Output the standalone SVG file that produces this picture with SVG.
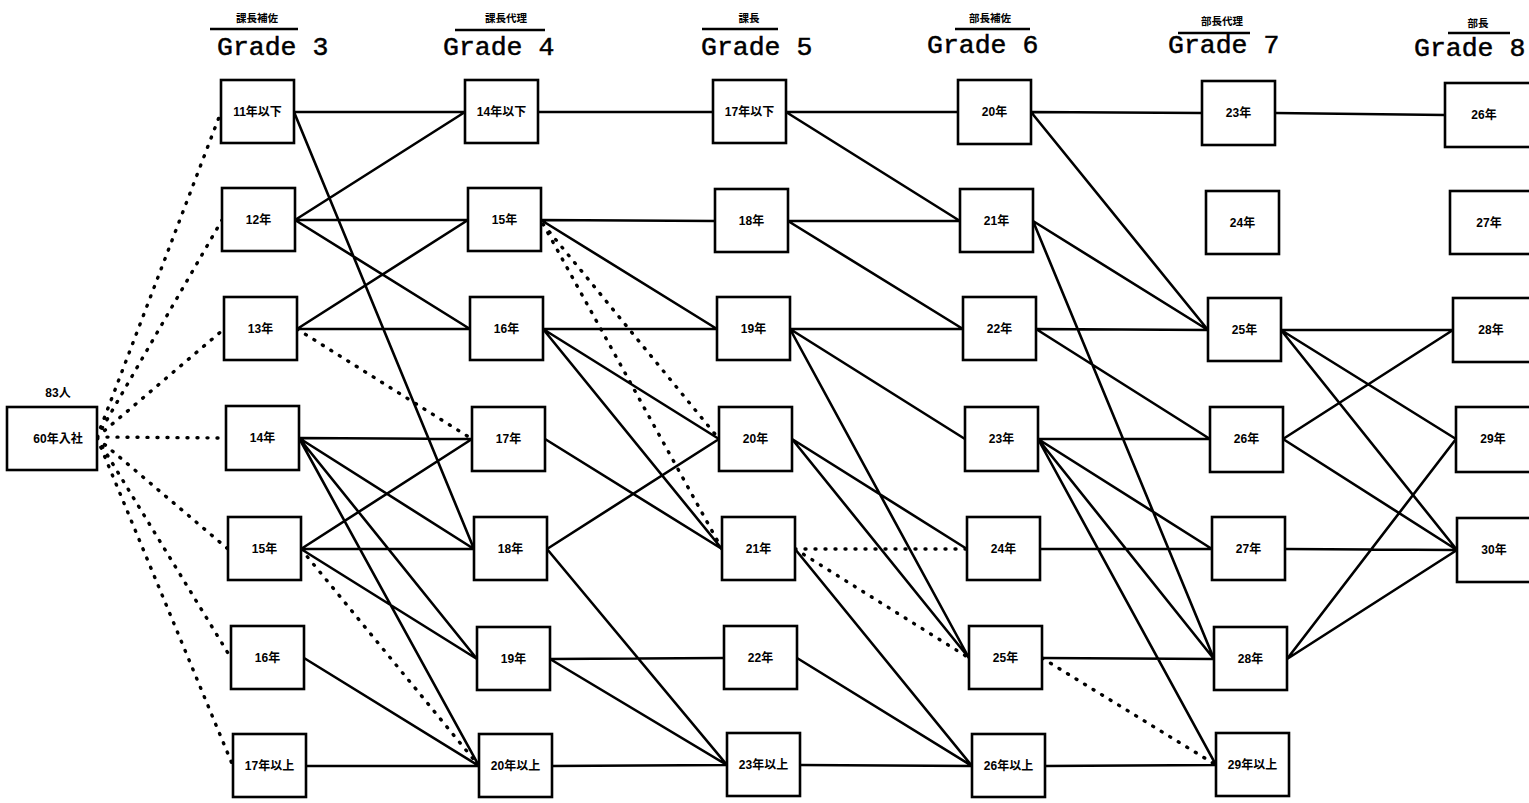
<svg xmlns="http://www.w3.org/2000/svg" width="1529" height="803" viewBox="0 0 1529 803">
<style>
.bx{fill:#fff;stroke:#000;stroke-width:2.6}
.ln{stroke:#000;stroke-width:2.6;fill:none}
.dt{stroke:#000;stroke-width:3.4;fill:none;stroke-dasharray:1 9;stroke-linecap:round}
.lb{font-family:"Liberation Sans","Noto Sans CJK JP",sans-serif;font-weight:bold;font-size:12px;text-anchor:middle;fill:#000}
.jp{font-family:"Noto Sans CJK JP",sans-serif;font-weight:bold;font-size:10.5px;text-anchor:middle;fill:#000}
.gr{font-family:"Liberation Mono",monospace;font-size:26.5px;fill:#000;stroke:#000;stroke-width:0.5}
.hl{stroke:#000;stroke-width:2.4}
</style>
<rect width="1529" height="803" fill="#fff"/>
<g id="headers">
<text class="jp" x="257" y="22">課長補佐</text><line class="hl" x1="210" y1="29" x2="298" y2="29"/><text class="gr" x="217" y="55">Grade 3</text>
<text class="jp" x="506" y="22">課長代理</text><line class="hl" x1="455" y1="30" x2="545" y2="30"/><text class="gr" x="443" y="55">Grade 4</text>
<text class="jp" x="749" y="22">課長</text><line class="hl" x1="702" y1="29" x2="778" y2="29"/><text class="gr" x="701" y="55">Grade 5</text>
<text class="jp" x="990" y="22">部長補佐</text><line class="hl" x1="955" y1="29" x2="1030" y2="29"/><text class="gr" x="927" y="53">Grade 6</text>
<text class="jp" x="1222" y="25">部長代理</text><line class="hl" x1="1178" y1="33" x2="1250" y2="33"/><text class="gr" x="1168" y="53">Grade 7</text>
<text class="jp" x="1478" y="27">部長</text><line class="hl" x1="1448" y1="33" x2="1510" y2="33"/><text class="gr" x="1414" y="56">Grade 8</text>
</g>
<g id="connectors">
<path class="dt" d="M97,437 L221,112 M97,437 L222,220 M97,437 L224,329 M97,437 L226,438 M97,438 L228,549 M97,438 L231,658 M97,438 L233,766"/>
<path class="ln" d="M294,112 L465,112 M294,112 L474,549 M295,220 L465,112 M295,220 L468,220 M295,220 L470,329 M297,329 L468,220 M297,329 L470,329 M299,438 L472,439 M299,438 L474,549 M299,438 L477,659 M299,438 L479,766 M301,549 L472,439 M301,549 L474,549 M301,549 L477,659 M304,658 L479,766 M306,766 L479,766"/>
<path class="dt" d="M297,329 L472,439 M301,549 L479,766"/>
<path class="ln" d="M538,112 L713,112 M541,220 L715,221 M541,220 L717,329 M543,329 L717,329 M543,329 L719,439 M543,329 L722,549 M545,439 L722,549 M547,549 L719,439 M547,549 L727,765 M550,659 L724,658 M550,659 L727,765 M552,766 L727,765"/>
<path class="dt" d="M543,224 L719,439 M543,224 L722,549"/>
<path class="ln" d="M786,112 L958,112 M786,112 L960,221 M788,221 L960,221 M788,221 L963,329 M790,329 L963,329 M790,329 L965,439 M790,329 L969,658 M792,439 L967,549 M792,439 L969,658 M795,549 L972,766 M797,658 L972,766 M800,765 L972,766"/>
<path class="dt" d="M795,549 L967,549 M795,549 L969,658"/>
<path class="ln" d="M1031,112 L1202,113 M1031,112 L1208,330 M1033,221 L1208,330 M1033,221 L1214,659 M1036,329 L1208,330 M1036,329 L1210,439 M1038,439 L1210,439 M1038,439 L1212,549 M1038,439 L1214,659 M1038,439 L1216,765 M1040,549 L1212,549 M1042,658 L1214,659 M1045,766 L1216,765"/>
<path class="dt" d="M1042,658 L1216,765"/>
<path class="ln" d="M1275,113 L1445,115 M1281,330 L1453,330 M1281,330 L1456,439 M1281,330 L1457,550 M1283,439 L1453,330 M1283,439 L1457,550 M1285,549 L1457,550 M1287,659 L1456,439 M1287,659 L1457,550"/>
</g>
<g id="start"><text class="lb" x="58" y="397">83人</text><rect class="bx" x="7" y="407" width="90" height="63"/><text class="lb" x="58" y="443">60年入社</text></g>
<g id="g3-1"><rect class="bx" x="221" y="80" width="73" height="63"/><text class="lb" x="257.5" y="116">11年以下</text></g>
<g id="g3-2"><rect class="bx" x="222" y="188" width="73" height="63"/><text class="lb" x="258.5" y="224">12年</text></g>
<g id="g3-3"><rect class="bx" x="224" y="297" width="73" height="63"/><text class="lb" x="260.5" y="333">13年</text></g>
<g id="g3-4"><rect class="bx" x="226" y="406" width="73" height="64"/><text class="lb" x="262.5" y="442">14年</text></g>
<g id="g3-5"><rect class="bx" x="228" y="517" width="73" height="63"/><text class="lb" x="264.5" y="553">15年</text></g>
<g id="g3-6"><rect class="bx" x="231" y="626" width="73" height="63"/><text class="lb" x="267.5" y="662">16年</text></g>
<g id="g3-7"><rect class="bx" x="233" y="734" width="73" height="63"/><text class="lb" x="269.5" y="770">17年以上</text></g>
<g id="g4-1"><rect class="bx" x="465" y="80" width="73" height="63"/><text class="lb" x="501.5" y="116">14年以下</text></g>
<g id="g4-2"><rect class="bx" x="468" y="188" width="73" height="63"/><text class="lb" x="504.5" y="224">15年</text></g>
<g id="g4-3"><rect class="bx" x="470" y="297" width="73" height="63"/><text class="lb" x="506.5" y="333">16年</text></g>
<g id="g4-4"><rect class="bx" x="472" y="407" width="73" height="64"/><text class="lb" x="508.5" y="443">17年</text></g>
<g id="g4-5"><rect class="bx" x="474" y="517" width="73" height="63"/><text class="lb" x="510.5" y="553">18年</text></g>
<g id="g4-6"><rect class="bx" x="477" y="627" width="73" height="63"/><text class="lb" x="513.5" y="663">19年</text></g>
<g id="g4-7"><rect class="bx" x="479" y="734" width="73" height="63"/><text class="lb" x="515.5" y="770">20年以上</text></g>
<g id="g5-1"><rect class="bx" x="713" y="80" width="73" height="63"/><text class="lb" x="749.5" y="116">17年以下</text></g>
<g id="g5-2"><rect class="bx" x="715" y="189" width="73" height="63"/><text class="lb" x="751.5" y="225">18年</text></g>
<g id="g5-3"><rect class="bx" x="717" y="297" width="73" height="63"/><text class="lb" x="753.5" y="333">19年</text></g>
<g id="g5-4"><rect class="bx" x="719" y="407" width="73" height="64"/><text class="lb" x="755.5" y="443">20年</text></g>
<g id="g5-5"><rect class="bx" x="722" y="517" width="73" height="63"/><text class="lb" x="758.5" y="553">21年</text></g>
<g id="g5-6"><rect class="bx" x="724" y="626" width="73" height="63"/><text class="lb" x="760.5" y="662">22年</text></g>
<g id="g5-7"><rect class="bx" x="727" y="733" width="73" height="63"/><text class="lb" x="763.5" y="769">23年以上</text></g>
<g id="g6-1"><rect class="bx" x="958" y="80" width="73" height="64"/><text class="lb" x="994.5" y="116">20年</text></g>
<g id="g6-2"><rect class="bx" x="960" y="189" width="73" height="63"/><text class="lb" x="996.5" y="225">21年</text></g>
<g id="g6-3"><rect class="bx" x="963" y="297" width="73" height="63"/><text class="lb" x="999.5" y="333">22年</text></g>
<g id="g6-4"><rect class="bx" x="965" y="407" width="73" height="64"/><text class="lb" x="1001.5" y="443">23年</text></g>
<g id="g6-5"><rect class="bx" x="967" y="517" width="73" height="63"/><text class="lb" x="1003.5" y="553">24年</text></g>
<g id="g6-6"><rect class="bx" x="969" y="626" width="73" height="63"/><text class="lb" x="1005.5" y="662">25年</text></g>
<g id="g6-7"><rect class="bx" x="972" y="734" width="73" height="63"/><text class="lb" x="1008.5" y="770">26年以上</text></g>
<g id="g7-1"><rect class="bx" x="1202" y="81" width="73" height="64"/><text class="lb" x="1238.5" y="117">23年</text></g>
<g id="g7-2"><rect class="bx" x="1206" y="191" width="73" height="63"/><text class="lb" x="1242.5" y="227">24年</text></g>
<g id="g7-3"><rect class="bx" x="1208" y="298" width="73" height="63"/><text class="lb" x="1244.5" y="334">25年</text></g>
<g id="g7-4"><rect class="bx" x="1210" y="407" width="73" height="65"/><text class="lb" x="1246.5" y="443">26年</text></g>
<g id="g7-5"><rect class="bx" x="1212" y="517" width="73" height="63"/><text class="lb" x="1248.5" y="553">27年</text></g>
<g id="g7-6"><rect class="bx" x="1214" y="627" width="73" height="63"/><text class="lb" x="1250.5" y="663">28年</text></g>
<g id="g7-7"><rect class="bx" x="1216" y="733" width="73" height="63"/><text class="lb" x="1252.5" y="769">29年以上</text></g>
<g id="g8-1"><rect class="bx" x="1445" y="83" width="100" height="64"/><text class="lb" x="1484" y="119">26年</text></g>
<g id="g8-2"><rect class="bx" x="1450" y="191" width="100" height="63"/><text class="lb" x="1489" y="227">27年</text></g>
<g id="g8-3"><rect class="bx" x="1453" y="298" width="100" height="64"/><text class="lb" x="1491" y="334">28年</text></g>
<g id="g8-4"><rect class="bx" x="1456" y="407" width="100" height="65"/><text class="lb" x="1493" y="443">29年</text></g>
<g id="g8-5"><rect class="bx" x="1457" y="518" width="100" height="64"/><text class="lb" x="1494" y="554">30年</text></g>
</svg>
